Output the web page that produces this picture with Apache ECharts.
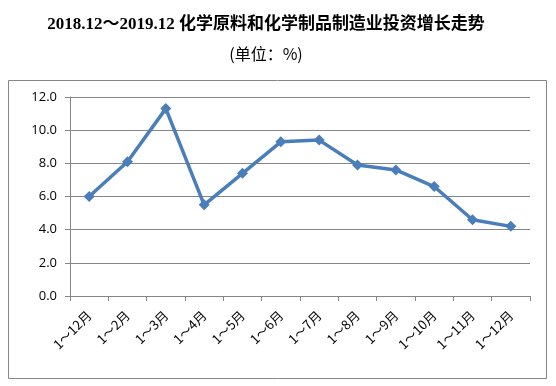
<!DOCTYPE html>
<html><head><meta charset="utf-8">
<script src="https://cdn.jsdelivr.net/npm/echarts@6/dist/echarts.min.js"></script>
<style>html,body{margin:0;padding:0;background:#fff;}#c{width:556px;height:386px;}</style>
</head><body><div id="c"></div>
<script>
var categories = ['1～12月','1～2月','1～3月','1～4月','1～5月','1～6月','1～7月','1～8月','1～9月','1～10月','1～11月','1～12月'];
var values = [6.0, 8.1, 11.3, 5.5, 7.4, 9.3, 9.4, 7.9, 7.6, 6.6, 4.6, 4.2];
var yTicks = [0, 2, 4, 6, 8, 10, 12];
var titleText = '2018.12～2019.12 化学原料和化学制品制造业投资增长走势';
var subText = '(单位：%)';

var chart = echarts.init(document.getElementById('c'), null, {renderer:'canvas'});
chart.setOption({
  backgroundColor: '#fff',
  animation: false,
  title: [{
    text: titleText, left: 261, top: 11, textAlign: 'center',
    textStyle: {fontFamily: "'Liberation Serif','Noto Sans CJK SC'", fontWeight: 'bold', fontSize: 17, color: '#000'}
  },{
    text: subText, left: 261, top: 41, textAlign: 'center',
    textStyle: {fontFamily: "'Noto Sans CJK SC'", fontWeight: 'normal', fontSize: 16, color: '#000'}
  }],
  graphic: [{
    type: 'rect', shape: {x: 8.5, y: 80.5, width: 538, height: 298}, silent: true, z: -1,
    style: {fill: 'none', stroke: '#868686', lineWidth: 1}
  }],
  grid: {left: 70, right: 26, top: 97, bottom: 90},
  xAxis: {
    type: 'category', data: categories, boundaryGap: true,
    axisLine: {lineStyle: {color: '#868686', width: 1}},
    axisTick: {show: true, length: 5, alignWithLabel: false, lineStyle: {color: '#868686'}},
    axisLabel: {rotate: 45, margin: 17, interval: 0, fontSize: 13, color: '#000', fontFamily: "'Noto Sans CJK SC'"}
  },
  yAxis: {
    type: 'value', min: yTicks[0], max: yTicks[yTicks.length-1], interval: 2,
    axisLine: {show: true, lineStyle: {color: '#868686', width: 1}},
    axisTick: {show: true, length: 5, lineStyle: {color: '#868686'}},
    axisLabel: {margin: 13, fontSize: 13, color: '#000', fontFamily: "'Open Sans','Liberation Sans'",
      formatter: function(v){return v.toFixed(1);}},
    splitLine: {show: true, lineStyle: {color: '#868686', width: 1}}
  },
  series: [{
    type: 'line', data: values,
    symbol: 'diamond', symbolSize: 11,
    lineStyle: {color: '#4A7EBB', width: 3.5},
    itemStyle: {color: '#4A7EBB'}
  }]
});
</script></body></html>
